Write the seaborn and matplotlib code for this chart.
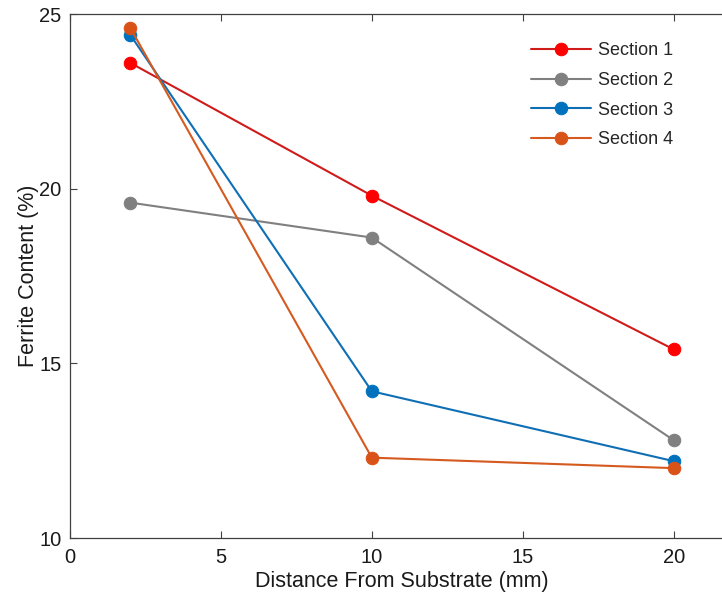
import matplotlib
matplotlib.use("Agg")
import matplotlib.pyplot as plt
import seaborn as sns
import pandas as pd

distance = [2, 10, 20]
section1 = [23.6, 19.8, 15.4]
section2 = [19.6, 18.6, 12.8]
section3 = [24.4, 14.2, 12.2]
section4 = [24.6, 12.3, 12.0]
names = ["Section 1", "Section 2", "Section 3", "Section 4"]
line_colors = ["#d01b1b", "#808080", "#0f6fb5", "#d45a1f"]
marker_colors = ["#ff0000", "#808080", "#0072bd", "#d95319"]
xticks = [0, 5, 10, 15, 20]
yticks = [10, 15, 20, 25]

sns.set_style("white")
plt.rcParams['font.family'] = ['Liberation Sans', 'DejaVu Sans']

fig = plt.figure(figsize=(7.22, 5.99), dpi=100)
ax = fig.add_axes([70/722, 61/599, 664/722, 524/599])

for name, vals, lc, mc in zip(names, [section1, section2, section3, section4], line_colors, marker_colors):
    df = pd.DataFrame({"x": distance, "y": vals})
    sns.lineplot(data=df, x="x", y="y", ax=ax, color=lc, marker="o", markersize=9,
                 markerfacecolor=mc, markeredgecolor=mc, linewidth=1.5, label=name)

ax.set_xlim(0, 22)
ax.set_ylim(10, 25)
ax.set_xticks(xticks)
ax.set_yticks(yticks)
ax.tick_params(direction="in", length=5, width=0.8, labelsize=14.5, colors="#404040",
               top=True, right=True, bottom=True, left=True, labelcolor="#1a1a1a")
ax.tick_params(axis="x", pad=7)
ax.tick_params(axis="y", pad=6)
for s in ax.spines.values():
    s.set_color("#404040")
    s.set_linewidth(0.9)
ax.set_xlabel("Distance From Substrate (mm)", fontsize=15.5, labelpad=3, color="#1a1a1a")
ax.set_ylabel("Ferrite Content (%)", fontsize=15.5, labelpad=0.5, color="#1a1a1a")

leg = ax.legend(loc="upper left", bbox_to_anchor=(445/664, 0.977), frameon=False,
                fontsize=13, handlelength=3.3, handletextpad=0.4, labelspacing=0.7)

fig.savefig("out.png", dpi=100)
